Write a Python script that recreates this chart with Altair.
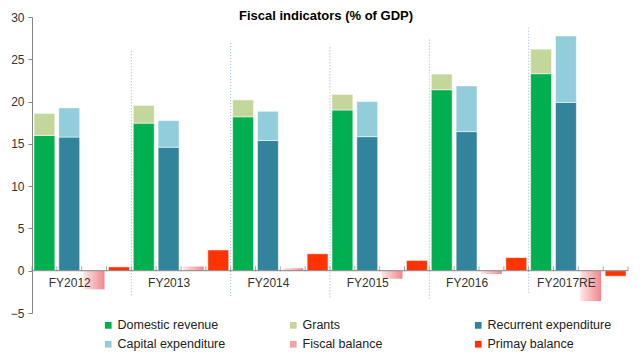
import json
import altair as alt
import pandas as pd

years = ["FY2012", "FY2013", "FY2014", "FY2015", "FY2016", "FY2017RE"]
domestic = [16.0, 17.45, 18.2, 19.0, 21.4, 23.3]
grants = [2.6, 2.1, 2.0, 1.85, 1.85, 2.9]
recurrent = [15.8, 14.6, 15.4, 15.85, 16.45, 19.9]
capital = [3.45, 3.15, 3.45, 4.15, 5.4, 7.85]
fiscal = [-2.2, 0.5, 0.3, -0.95, -0.4, -3.6]
primary = [0.45, 2.45, 2.0, 1.2, 1.55, -0.65]

# legend order (filled column by column, 2 rows)
series_names = ["Domestic revenue", "Capital expenditure", "Grants", "Fiscal balance",
                "Recurrent expenditure", "Primay balance"]
series_colors = ["#00b050", "#92cddc", "#c4d79b", "#f4a3a6", "#31849b", "#ff3300"]

# Excel category separator lines (top / bottom values in % of GDP)
sep_tops = [26.2, 27.0, 26.45, 27.5, 28.8]
sep_bottoms = [-2.9, -3.0, -3.15, -3.3, -2.6]

FONT = "Liberation Sans"
per_group = 4
n_slots = per_group * len(years)

rows = []
for i, yr in enumerate(years):
    b = per_group * i
    rows.append(dict(series="Domestic revenue", year=yr, slot=b, lo=0.0, hi=domestic[i]))
    rows.append(dict(series="Grants", year=yr, slot=b, lo=domestic[i], hi=domestic[i] + grants[i]))
    rows.append(dict(series="Recurrent expenditure", year=yr, slot=b + 1, lo=0.0, hi=recurrent[i]))
    rows.append(dict(series="Capital expenditure", year=yr, slot=b + 1, lo=recurrent[i], hi=recurrent[i] + capital[i]))
    rows.append(dict(series="Fiscal balance", year=yr, slot=b + 2, lo=0.0, hi=fiscal[i]))
    rows.append(dict(series="Primay balance", year=yr, slot=b + 3, lo=0.0, hi=primary[i]))
df = pd.DataFrame(rows)
gap = 0.08
df["xa"] = df["slot"] + gap
df["xb"] = df["slot"] + 1 - gap

xscale = alt.Scale(domain=[0, n_slots], nice=False, zero=False)
yscale = alt.Scale(domain=[-5, 30], nice=False)

label_vals = [per_group * i + 1.5 for i in range(len(years))]
label_expr = json.dumps(years) + "[floor(datum.value / %d)]" % per_group

x_axis = alt.Axis(values=label_vals, labelExpr=label_expr, ticks=False, domain=False,
                  grid=False, offset=-42, labelPadding=6, labelFontSize=12,
                  labelColor="#333333", labelFont=FONT, labelOverlap=False,
                  labelFlush=False, title=None, zindex=2)
y_axis = alt.Axis(values=[-5, 0, 5, 10, 15, 20, 25, 30], grid=False, tickSize=4,
                  tickColor="#868686", domainColor="#868686", labelFontSize=12,
                  labelColor="#333333", labelFont=FONT, labelPadding=4, title=None)

color = alt.Color("series:N",
                  scale=alt.Scale(domain=series_names, range=series_colors),
                  legend=alt.Legend(title=None, orient="none", legendX=70, legendY=302,
                                    columns=3, gridAlign="all", columnPadding=45,
                                    rowPadding=6, symbolType="square", symbolSize=45,
                                    symbolStrokeWidth=0, labelFontSize=12.5,
                                    labelColor="#222222", labelFont=FONT,
                                    labelOffset=3))

main = alt.Chart(df).transform_filter(alt.datum.series != "Fiscal balance").mark_bar(
    stroke="white", strokeWidth=0.5
).encode(
    x=alt.X("xa:Q", scale=xscale, axis=x_axis),
    x2="xb:Q",
    y=alt.Y("lo:Q", scale=yscale, axis=y_axis),
    y2="hi:Q",
    color=color,
)

grad = alt.Gradient(gradient="linear",
                    stops=[alt.GradientStop(color="#fde6e6", offset=0),
                           alt.GradientStop(color="#f2878c", offset=1)],
                    x1=0, x2=1, y1=0, y2=0)
fisc = alt.Chart(df).transform_filter(alt.datum.series == "Fiscal balance").mark_bar(
    color=grad
).encode(
    x=alt.X("xa:Q", scale=xscale),
    x2="xb:Q",
    y=alt.Y("lo:Q", scale=yscale),
    y2="hi:Q",
)

zero_df = pd.DataFrame({"xa": [0], "xb": [n_slots], "v": [0.0]})
zero = alt.Chart(zero_df).mark_rule(color="#868686", strokeWidth=1).encode(
    x=alt.X("xa:Q", scale=xscale), x2="xb:Q", y=alt.Y("v:Q", scale=yscale))

tick_df = pd.DataFrame({"b": list(range(n_slots + 1)), "v": [0.0] * (n_slots + 1)})
ticks = alt.Chart(tick_df).mark_tick(orient="vertical", size=5, thickness=1,
                                     color="#868686", yOffset=-2).encode(
    x=alt.X("b:Q", scale=xscale), y=alt.Y("v:Q", scale=yscale))

sep_df = pd.DataFrame({"b": [per_group * (k + 1) for k in range(len(sep_tops))],
                       "top": sep_tops, "bot": sep_bottoms})
seps = alt.Chart(sep_df).mark_rule(color="#95b3d7", strokeWidth=1, strokeDash=[1, 2]).encode(
    x=alt.X("b:Q", scale=xscale), y=alt.Y("bot:Q", scale=yscale), y2="top:Q")

chart = alt.layer(seps, main, fisc, zero, ticks).properties(
    width=596, height=296,
    title=alt.TitleParams("Fiscal indicators (% of GDP)", fontSize=13, fontWeight="bold",
                          font=FONT, anchor="middle", offset=-12, dx=-4, color="#000000"),
    autosize=alt.AutoSizeParams(type="none"),
    padding={"left": 32, "top": 17, "right": 12, "bottom": 42},
    background="white",
).configure_view(stroke=None)

chart.save("out.html", embed_options={"renderer": "svg", "actions": False})
